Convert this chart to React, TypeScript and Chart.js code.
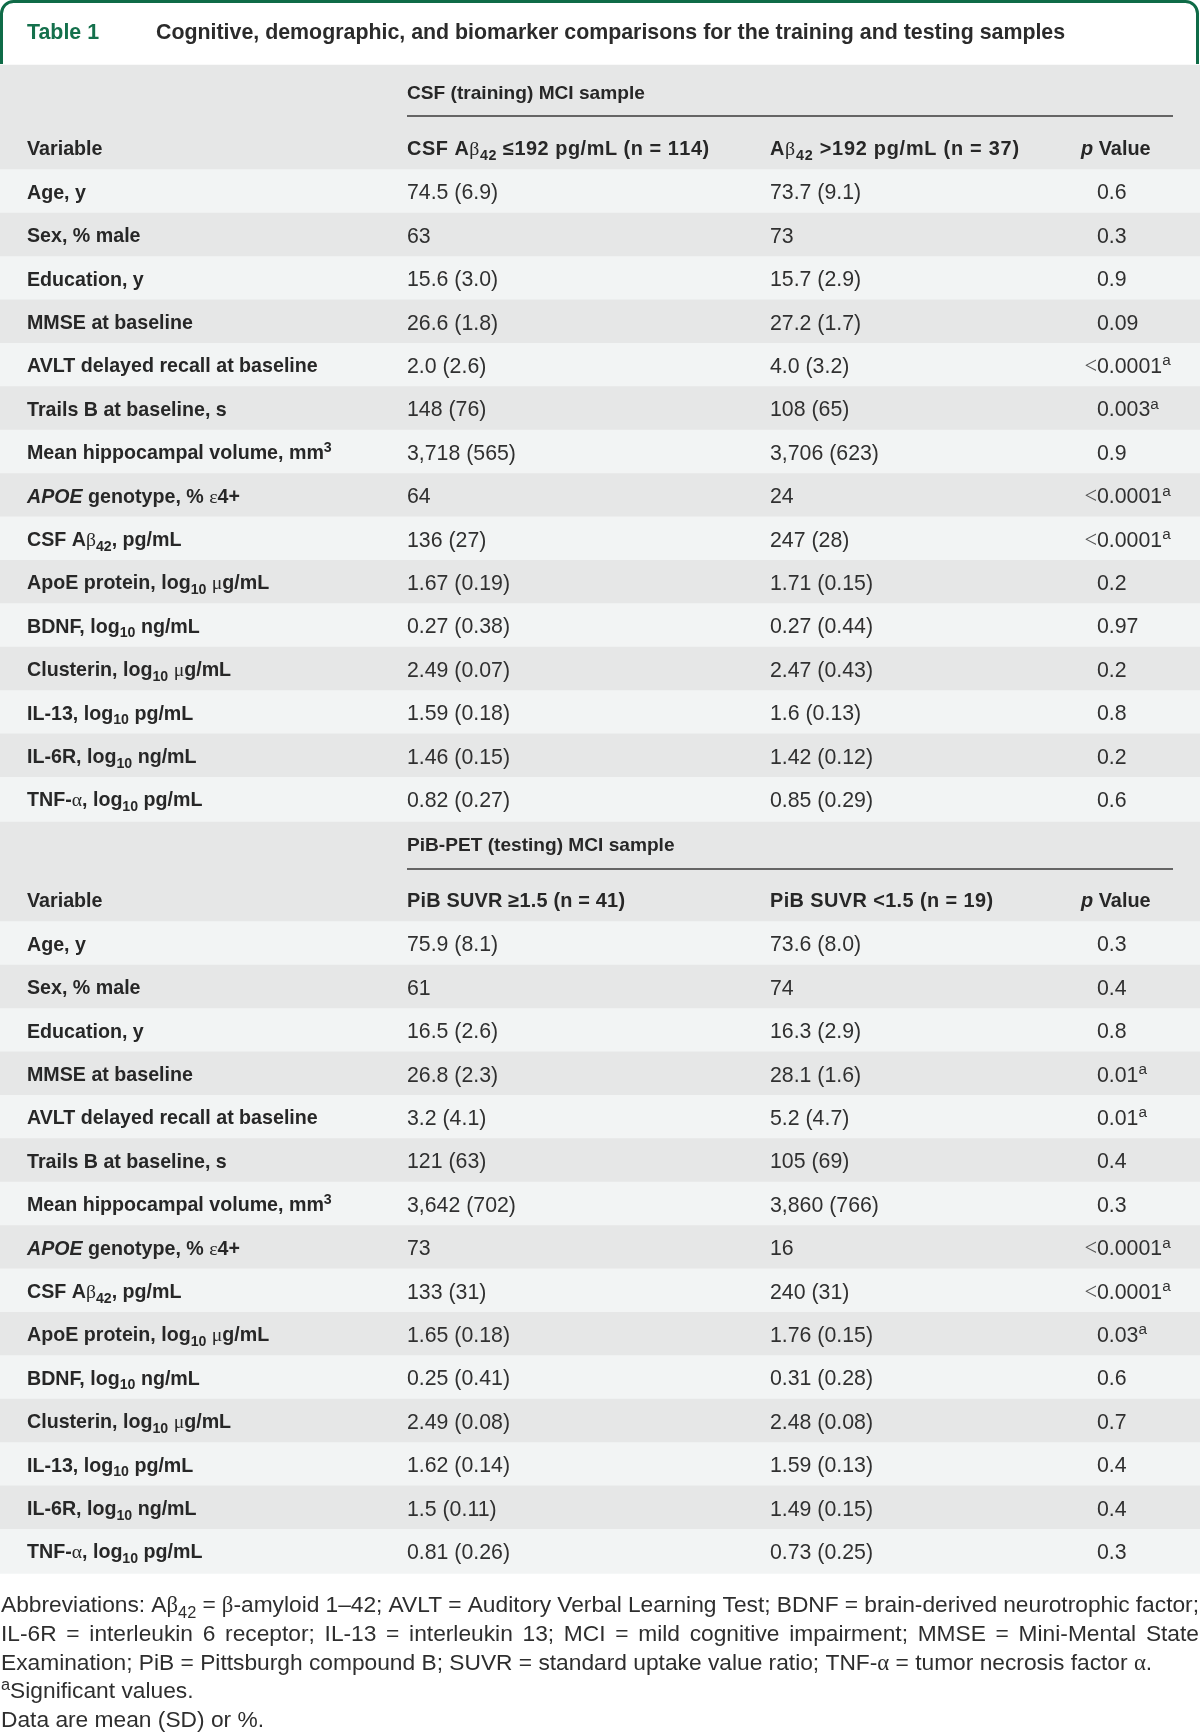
import React, { useEffect, useRef } from "react";
import { Chart, registerables } from "chart.js";

Chart.register(...registerables);

const W = 1200;
const H = 1733;

// ---------- data ----------
const tableLabel = "Table 1";
const tableTitle = "Cognitive, demographic, and biomarker comparisons for the training and testing samples";

const section1Title = "CSF (training) MCI sample";
const section1Cols = ["CSF Aβ_{42} ≤192 pg/mL (n = 114)", "Aβ_{42} >192 pg/mL (n = 37)"];
const section2Title = "PiB-PET (testing) MCI sample";
const section2Cols = ["PiB SUVR ≥1.5 (n = 41)", "PiB SUVR <1.5 (n = 19)"];
const variableHeader = "Variable";
const pHeader = "*p* Value";

const variables = [
  "Age, y",
  "Sex, % male",
  "Education, y",
  "MMSE at baseline",
  "AVLT delayed recall at baseline",
  "Trails B at baseline, s",
  "Mean hippocampal volume, mm^{3}",
  "*APOE* genotype, % ε4+",
  "CSF Aβ_{42}, pg/mL",
  "ApoE protein, log_{10} μg/mL",
  "BDNF, log_{10} ng/mL",
  "Clusterin, log_{10} μg/mL",
  "IL-13, log_{10} pg/mL",
  "IL-6R, log_{10} ng/mL",
  "TNF-α, log_{10} pg/mL",
];

const csfLow = ["74.5 (6.9)", "63", "15.6 (3.0)", "26.6 (1.8)", "2.0 (2.6)", "148 (76)", "3,718 (565)", "64", "136 (27)", "1.67 (0.19)", "0.27 (0.38)", "2.49 (0.07)", "1.59 (0.18)", "1.46 (0.15)", "0.82 (0.27)"];
const csfHigh = ["73.7 (9.1)", "73", "15.7 (2.9)", "27.2 (1.7)", "4.0 (3.2)", "108 (65)", "3,706 (623)", "24", "247 (28)", "1.71 (0.15)", "0.27 (0.44)", "2.47 (0.43)", "1.6 (0.13)", "1.42 (0.12)", "0.85 (0.29)"];
const csfP = ["0.6", "0.3", "0.9", "0.09", "<0.0001^{a}", "0.003^{a}", "0.9", "<0.0001^{a}", "<0.0001^{a}", "0.2", "0.97", "0.2", "0.8", "0.2", "0.6"];

const pibHigh = ["75.9 (8.1)", "61", "16.5 (2.6)", "26.8 (2.3)", "3.2 (4.1)", "121 (63)", "3,642 (702)", "73", "133 (31)", "1.65 (0.18)", "0.25 (0.41)", "2.49 (0.08)", "1.62 (0.14)", "1.5 (0.11)", "0.81 (0.26)"];
const pibLow = ["73.6 (8.0)", "74", "16.3 (2.9)", "28.1 (1.6)", "5.2 (4.7)", "105 (69)", "3,860 (766)", "16", "240 (31)", "1.76 (0.15)", "0.31 (0.28)", "2.48 (0.08)", "1.59 (0.13)", "1.49 (0.15)", "0.73 (0.25)"];
const pibP = ["0.3", "0.4", "0.8", "0.01^{a}", "0.01^{a}", "0.4", "0.3", "<0.0001^{a}", "<0.0001^{a}", "0.03^{a}", "0.6", "0.7", "0.4", "0.4", "0.3"];

const footnoteLines = [
  "Abbreviations: Aβ_{42} = β-amyloid 1–42; AVLT = Auditory Verbal Learning Test; BDNF = brain-derived neurotrophic factor;",
  "IL-6R = interleukin 6 receptor; IL-13 = interleukin 13; MCI = mild cognitive impairment; MMSE = Mini-Mental State",
  "Examination; PiB = Pittsburgh compound B; SUVR = standard uptake value ratio; TNF-α = tumor necrosis factor α.",
  "^{a}Significant values.",
  "Data are mean (SD) or %.",
];
const footnoteJustified = [true, true, false, false, false];

// ---------- layout / style ----------
const SANS = '"Liberation Sans", Arial, Helvetica, sans-serif';
const SERIF = '"Liberation Serif", "DejaVu Serif", serif';
const GREEN = "#0f6b47";
const GREEN_TEXT = "#14704c";
const BAND_LIGHT = "#f2f4f4";
const BAND_DARK = "#e6e7e7";
const TEXT_DARK = "#272727";
const TEXT_VAL = "#303030";

const BOX_BOTTOM = 65;
const ROW_H = 43.4;
const HEAD1_H = 105;
const HEAD2_H = 101;
const SEC1_TOP = BOX_BOTTOM;
const SEC1_ROWS = SEC1_TOP + HEAD1_H;
const SEC2_TOP = SEC1_ROWS + variables.length * ROW_H;
const SEC2_ROWS = SEC2_TOP + HEAD2_H;
const HEAD1_OFF = [27, 51, 83];
const HEAD2_OFF = [23, 48, 79];
const COL_HEAD_W1 = [301, 249];
const COL_HEAD_W2 = [218, 223];

const X_LABEL = 27;
const X_COL1 = 407;
const X_COL2 = 770;
const X_PHEAD = 1081;
const X_PVAL = 1097;
const X_LINE_END = 1173;
const FOOT_Y0 = 1604;
const FOOT_DY = 28.7;

// ---------- rich text ----------
type Seg = { t: string; sub?: boolean; sup?: boolean; it?: boolean; g?: boolean };

function parseRich(s: string): Seg[] {
  const out: Seg[] = [];
  let i = 0;
  let buf = "";
  let it = false;
  const flush = () => {
    if (buf) {
      out.push({ t: buf, it });
      buf = "";
    }
  };
  while (i < s.length) {
    const c = s[i];
    if ((c === "_" || c === "^") && s[i + 1] === "{") {
      flush();
      const end = s.indexOf("}", i);
      out.push({ t: s.slice(i + 2, end), sub: c === "_", sup: c === "^", it });
      i = end + 1;
      continue;
    }
    if (c === "*") {
      flush();
      it = !it;
      i++;
      continue;
    }
    buf += c;
    i++;
  }
  flush();
  const res: Seg[] = [];
  for (const sg of out) {
    const parts = sg.t.split(/([\u0370-\u03ff\u00b5])/);
    for (const p of parts) {
      if (!p) continue;
      res.push({ ...sg, t: p, g: /[\u0370-\u03ff\u00b5]/.test(p) });
    }
  }
  return res;
}

function segFont(sg: Seg, size: number, weight: string) {
  const sz = sg.sub || sg.sup ? size * 0.72 : size;
  const w = sg.g ? "normal" : weight;
  return `${sg.it ? "italic " : ""}${w} ${sz}px ${sg.g ? SERIF : SANS}`;
}

function measureRich(ctx: CanvasRenderingContext2D, s: string, size: number, weight: string) {
  let w = 0;
  for (const sg of parseRich(s)) {
    ctx.font = segFont(sg, size, weight);
    w += ctx.measureText(sg.t).width;
  }
  return w;
}

function countChars(s: string) {
  let n = 0;
  for (const sg of parseRich(s)) n += Array.from(sg.t).length;
  return n;
}

function countSpaces(s: string) {
  let n = 0;
  for (const sg of parseRich(s)) n += (sg.t.match(/ /g) || []).length;
  return n;
}

function drawRich(
  ctx: CanvasRenderingContext2D,
  s: string,
  x: number,
  y: number,
  size: number,
  weight: string,
  color: string,
  extraSpace = 0,
  extraChar = 0
) {
  ctx.fillStyle = color;
  ctx.textBaseline = "alphabetic";
  ctx.textAlign = "left";
  let cx = x;
  for (const sg of parseRich(s)) {
    ctx.font = segFont(sg, size, weight);
    const dy = sg.sub ? size * 0.24 : sg.sup ? -size * 0.36 : 0;
    if (extraChar) {
      for (const ch of Array.from(sg.t)) {
        if (ch !== " ") ctx.fillText(ch, cx, y + dy);
        cx += ctx.measureText(ch).width + extraChar;
      }
      continue;
    }
    const words = sg.t.split(" ");
    const sp = ctx.measureText(" ").width;
    words.forEach((wd, k) => {
      if (k > 0) cx += sp + extraSpace;
      if (wd) ctx.fillText(wd, cx, y + dy);
      cx += ctx.measureText(wd).width;
    });
  }
  return cx;
}

// ---------- plugin ----------
const tablePlugin = {
  id: "tableText",
  afterDatasetsDraw(chart: any) {
    const ctx: CanvasRenderingContext2D = chart.ctx;
    const ys = chart.scales.y;
    const xs = chart.scales.x;
    const px = (v: number) => xs.getPixelForValue(v);
    const py = (v: number) => ys.getPixelForValue(v);
    ctx.save();

    const titleSize = Math.max(16, Math.min(24, (20 * 910) / measureRich(ctx, tableTitle, 20, "bold")));
    const labelSize = Math.max(15, Math.min(22, (19 * 291) / measureRich(ctx, variables[4], 19, "bold")));
    const valSize = Math.max(15, Math.min(22, (18.5 * 109) / measureRich(ctx, csfLow[6], 18.5, "normal")));
    const headSize = Math.max(15, Math.min(22, (19 * 238) / measureRich(ctx, section1Title, 19, "bold")));
    const footSize = Math.max(17, Math.min(26, (22 * 1152) / measureRich(ctx, footnoteLines[2], 22, "normal")));
    const colHeadSize = headSize * 1.04;

    // title box
    ctx.strokeStyle = GREEN;
    ctx.lineWidth = 3;
    ctx.beginPath();
    const r = 12;
    const l = px(1.5);
    const rr = px(W - 2.5);
    const t = py(1.5);
    const b = py(BOX_BOTTOM - 1);
    ctx.moveTo(l, b);
    ctx.lineTo(l, t + r);
    ctx.arcTo(l, t, l + r, t, r);
    ctx.lineTo(rr - r, t);
    ctx.arcTo(rr, t, rr, t + r, r);
    ctx.lineTo(rr, b);
    ctx.stroke();

    const capOff = (s: number) => s * 0.36;
    drawRich(ctx, tableLabel, px(X_LABEL), py(31) + capOff(titleSize), titleSize, "bold", GREEN_TEXT);
    drawRich(ctx, tableTitle, px(156), py(31) + capOff(titleSize), titleSize, "bold", "#2b2b2b");

    const drawSection = (
      top: number,
      off: number[],
      title: string,
      cols: string[],
      colW: number[],
      rowsTop: number,
      c1: string[],
      c2: string[],
      p: string[]
    ) => {
      drawRich(ctx, title, px(X_COL1), py(top + off[0]) + capOff(headSize), headSize, "bold", TEXT_DARK);
      ctx.strokeStyle = "#3a3a3a";
      ctx.lineWidth = 1.5;
      ctx.beginPath();
      ctx.moveTo(px(X_COL1), py(top + off[1]));
      ctx.lineTo(px(X_LINE_END), py(top + off[1]));
      ctx.stroke();
      const hy = py(top + off[2]) + capOff(headSize);
      drawRich(ctx, variableHeader, px(X_LABEL), hy, headSize * 1.03, "bold", TEXT_DARK);
      [X_COL1, X_COL2].forEach((cx, k) => {
        const nat = measureRich(ctx, cols[k], colHeadSize, "bold");
        const n = Math.max(1, countChars(cols[k]) - 1);
        const ex = Math.max(0, (colW[k] - nat) / n);
        drawRich(ctx, cols[k], px(cx), hy, colHeadSize, "bold", TEXT_DARK, 0, ex);
      });
      drawRich(ctx, pHeader, px(X_PHEAD), hy, headSize * 1.04, "bold", TEXT_DARK);
      variables.forEach((v, i) => {
        const cy = py(rowsTop + (i + 0.5) * ROW_H);
        drawRich(ctx, v, px(X_LABEL), cy + capOff(labelSize), labelSize, "bold", TEXT_DARK);
        drawRich(ctx, c1[i], px(X_COL1), cy + capOff(valSize), valSize, "normal", TEXT_VAL);
        drawRich(ctx, c2[i], px(X_COL2), cy + capOff(valSize), valSize, "normal", TEXT_VAL);
        let pv = p[i];
        if (pv.startsWith("<")) {
          pv = pv.slice(1);
          ctx.font = `normal ${valSize * 1.05}px ${SERIF}`;
          ctx.fillStyle = "#555";
          ctx.textAlign = "right";
          ctx.fillText("<", px(X_PVAL), cy + capOff(valSize));
          ctx.textAlign = "left";
        }
        drawRich(ctx, pv, px(X_PVAL), cy + capOff(valSize), valSize, "normal", TEXT_VAL);
      });
    };

    drawSection(SEC1_TOP, HEAD1_OFF, section1Title, section1Cols, COL_HEAD_W1, SEC1_ROWS, csfLow, csfHigh, csfP);
    drawSection(SEC2_TOP, HEAD2_OFF, section2Title, section2Cols, COL_HEAD_W2, SEC2_ROWS, pibHigh, pibLow, pibP);

    footnoteLines.forEach((line, i) => {
      const y = py(FOOT_Y0 + i * FOOT_DY) + capOff(footSize);
      let extra = 0;
      if (footnoteJustified[i]) {
        const nat = measureRich(ctx, line, footSize, "normal");
        const n = countSpaces(line);
        extra = n ? (px(W - 1) - px(1) - nat) / n : 0;
      }
      drawRich(ctx, line, px(1), y, footSize, "normal", "#2e2e2e", extra);
    });

    ctx.restore();
  },
};

export default function App() {
  const ref = useRef<HTMLCanvasElement | null>(null);

  useEffect(() => {
    const canvas = ref.current;
    if (!canvas) return;

    const rowBars: { x: number[]; y: number }[] = [];
    const rowColors: string[] = [];
    [SEC1_ROWS, SEC2_ROWS].forEach((top) => {
      variables.forEach((_, i) => {
        rowBars.push({ x: [0, W], y: top + (i + 0.5) * ROW_H });
        rowColors.push(i % 2 === 0 ? BAND_LIGHT : BAND_DARK);
      });
    });

    const chart = new Chart(canvas, {
      type: "bar",
      data: {
        datasets: [
          {
            data: rowBars as any,
            backgroundColor: rowColors,
            barThickness: ROW_H + 0.6,
            grouped: false,
            borderWidth: 0,
          } as any,
          {
            data: [{ x: [0, W], y: SEC1_TOP + HEAD1_H / 2 }] as any,
            backgroundColor: BAND_DARK,
            barThickness: HEAD1_H,
            grouped: false,
            borderWidth: 0,
          } as any,
          {
            data: [{ x: [0, W], y: SEC2_TOP + HEAD2_H / 2 }] as any,
            backgroundColor: BAND_DARK,
            barThickness: HEAD2_H,
            grouped: false,
            borderWidth: 0,
          } as any,
        ],
      },
      options: {
        indexAxis: "y",
        animation: false,
        responsive: false,
        devicePixelRatio: 1,
        layout: { padding: 0 },
        plugins: { legend: { display: false }, tooltip: { enabled: false } },
        events: [],
        scales: {
          x: { type: "linear", min: 0, max: W, display: false, offset: false },
          y: { type: "linear", min: 0, max: H, reverse: true, display: false, offset: false },
        },
      } as any,
      plugins: [tablePlugin],
    });

    return () => chart.destroy();
  }, []);

  return (
    <div style={{ position: "absolute", left: 0, top: 0, width: W, height: H, background: "#fff" }}>
      <canvas ref={ref} width={W} height={H} style={{ display: "block", width: W, height: H }} />
    </div>
  );
}
